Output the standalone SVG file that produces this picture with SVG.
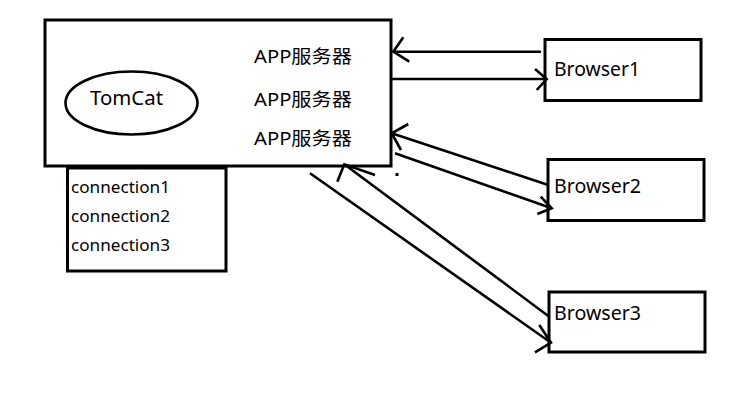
<svg xmlns="http://www.w3.org/2000/svg" width="746" height="403" viewBox="0 0 746 403">
<style>
.box{fill:none;stroke:#000;stroke-width:3}
.t{font-family:"Noto Sans","Noto Sans CJK SC",sans-serif;fill:#000}
.c{fill:none;stroke:#000;stroke-width:2.6;stroke-linecap:butt}
</style>
<rect width="746" height="403" fill="#fff"/>
<g id="tomcat-server">
<rect class="box" x="45" y="20" width="346" height="146"/>
<ellipse cx="131.5" cy="103" rx="66" ry="31.5" fill="none" stroke="#000" stroke-width="2.6"/>
<text class="t" x="90" y="105" font-size="19" textLength="73" lengthAdjust="spacingAndGlyphs">TomCat</text>
<text class="t" x="254" y="63" font-size="18.5" textLength="98" lengthAdjust="spacingAndGlyphs">APP服务器</text>
<text class="t" x="254" y="106" font-size="18.5" textLength="98" lengthAdjust="spacingAndGlyphs">APP服务器</text>
<text class="t" x="254" y="145" font-size="18.5" textLength="98" lengthAdjust="spacingAndGlyphs">APP服务器</text>
</g>
<g id="connections">
<rect class="box" x="67.5" y="168" width="158.5" height="103"/>
<text class="t" x="71" y="193" font-size="16.5" textLength="99" lengthAdjust="spacingAndGlyphs">connection1</text>
<text class="t" x="71" y="222" font-size="16.5" textLength="99" lengthAdjust="spacingAndGlyphs">connection2</text>
<text class="t" x="71" y="251" font-size="16.5" textLength="99" lengthAdjust="spacingAndGlyphs">connection3</text>
</g>
<g id="browser1">
<rect class="box" x="545" y="39.5" width="156" height="61"/>
<text class="t" x="554" y="76" font-size="19.5" textLength="86" lengthAdjust="spacingAndGlyphs">Browser1</text>
</g>
<g id="browser2">
<rect class="box" x="548" y="159.5" width="156" height="61"/>
<text class="t" x="554" y="193" font-size="19.5" textLength="87" lengthAdjust="spacingAndGlyphs">Browser2</text>
</g>
<g id="browser3">
<rect class="box" x="549" y="292" width="156" height="60"/>
<text class="t" x="554" y="320" font-size="19.5" textLength="87" lengthAdjust="spacingAndGlyphs">Browser3</text>
</g>
<g id="connectors">
<path class="c" d="M541 51.7H393.3M403.3 37.3L393.3 51.7L409.3 61.7"/>
<path class="c" d="M392 79H546.7M535 69L546.7 79L536.7 90"/>
<path class="c" d="M548.3 185L391.7 133.3M408.3 124L391.7 133.3L401 150"/>
<path class="c" d="M395 153.3L551.7 208.3M540.7 196.7L551.7 208.3L537.3 214"/>
<path class="c" d="M549.3 316.7L344.3 164.3M337.3 181.7L344.3 164.3L375 175"/>
<path class="c" d="M310 173.3L551 342.7M539.3 325L551 342.7L535 352.3"/>
<rect x="395.5" y="173" width="3" height="3" fill="#000"/>
</g>
</svg>
